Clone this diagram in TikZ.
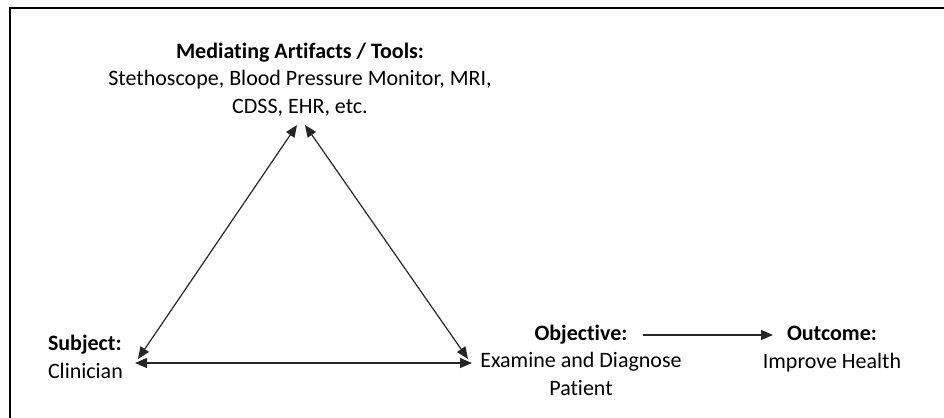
\documentclass[tikz,border=0pt]{standalone}
\usepackage{fontspec}
\setmainfont[Ligatures=NoCommon]{Carlito}
\usetikzlibrary{arrows.meta}
\begin{document}
\begin{tikzpicture}[x=0.5pt,y=-0.5pt,
  lbl/.style={inner sep=0pt,outer sep=0pt,font=\fontsize{11pt}{13.6pt}\selectfont},
  conn/.style={line width=0.6pt,draw=black!85,{Triangle[length=6pt,width=5pt]}-{Triangle[length=6pt,width=5pt]}},
  oneway/.style={line width=0.6pt,draw=black!85,-{Triangle[length=6pt,width=5pt]}}]
\useasboundingbox (0,0) rectangle (944,418);
\draw[line width=1pt] (10.3,420) -- (10.3,7.7) -- (950,7.7);
% text blocks (base anchor = baseline of last line)
\node[lbl,align=center,anchor=base] (tools) at (300,113)
  {\textbf{Mediating Artifacts / Tools:}\\Stethoscope, Blood Pressure Monitor, MRI,\\CDSS, EHR, etc.};
\node[lbl,align=left,anchor=base west] (subj) at (48,378)
  {\textbf{Subject:}\\Clinician};
\node[lbl,align=center,anchor=base] (obj) at (581,395)
  {\textbf{Objective:}\\Examine and Diagnose\\Patient};
\node[lbl,align=center,anchor=base] (out) at (832,368)
  {\textbf{Outcome:}\\Improve Health};
% connector ends
\coordinate (apexL) at (297,125);
\coordinate (apexR) at (305,125);
\coordinate (subjD) at (138,359);
\coordinate (subjH) at (135,363);
\coordinate (objD) at (468,359);
\coordinate (objH) at (472,363);
\coordinate (objE) at (643,335);
\coordinate (outW) at (773,335);
\draw[conn] (apexL) -- (subjD);
\draw[conn] (apexR) -- (objD);
\draw[conn] (subjH) -- (objH);
\draw[oneway] (objE) -- (outW);
\end{tikzpicture}
\end{document}
